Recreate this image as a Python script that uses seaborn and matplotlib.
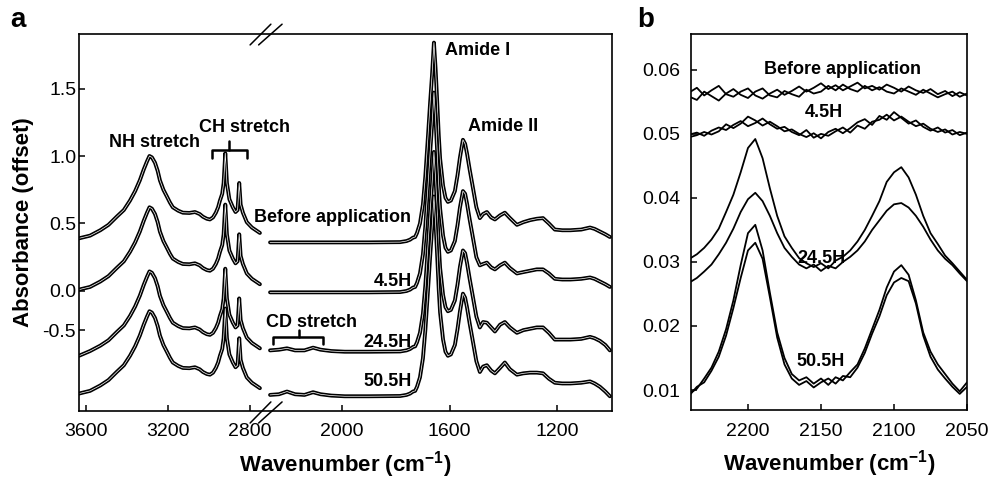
import numpy as np
import matplotlib
matplotlib.use("Agg")
import matplotlib.pyplot as plt
import seaborn as sns

# ---------------- Panel a data ----------------
# high-wavenumber segment (NH / CH stretch region)
wn_high = [3634, 3580, 3530, 3490, 3450, 3415, 3385, 3360, 3337, 3318, 3302, 3290, 3278, 3263,
           3250, 3239, 3222, 3205, 3190, 3176, 3150, 3127, 3095, 3068, 3045, 3029, 3010, 2995,
           2980, 2966, 2955, 2946, 2935, 2928, 2920, 2912, 2900, 2883, 2870, 2860, 2852, 2845,
           2834, 2815, 2790, 2751]
high_before = [0.39, 0.41, 0.45, 0.49, 0.55, 0.60, 0.67, 0.74, 0.82, 0.90, 0.96, 1.00, 0.99,
               0.95, 0.89, 0.82, 0.75, 0.70, 0.655, 0.62, 0.595, 0.58, 0.578, 0.585, 0.57,
               0.55, 0.535, 0.53, 0.545, 0.58, 0.62, 0.67, 0.72, 0.80, 1.02, 0.80, 0.68, 0.62,
               0.585, 0.60, 0.80, 0.64, 0.58, 0.51, 0.47, 0.43]
high_4h = [0.01, 0.03, 0.07, 0.11, 0.17, 0.22, 0.29, 0.36, 0.44, 0.52, 0.58, 0.62, 0.61, 0.57,
           0.51, 0.44, 0.37, 0.32, 0.275, 0.24, 0.215, 0.20, 0.198, 0.205, 0.19, 0.17, 0.155,
           0.15, 0.165, 0.20, 0.24, 0.29, 0.34, 0.42, 0.64, 0.42, 0.30, 0.24, 0.205, 0.22, 0.42,
           0.26, 0.20, 0.13, 0.09, 0.05]
high_24h = [-0.48, -0.445, -0.405, -0.365, -0.305, -0.255, -0.185, -0.115, -0.035, 0.045,
            0.105, 0.145, 0.135, 0.095, 0.035, -0.035, -0.105, -0.155, -0.20, -0.235, -0.26,
            -0.275, -0.277, -0.27, -0.285, -0.305, -0.32, -0.325, -0.31, -0.275, -0.235,
            -0.185, -0.135, -0.055, 0.165, -0.055, -0.175, -0.235, -0.27, -0.255, -0.055,
            -0.215, -0.275, -0.345, -0.385, -0.425]
high_50h = [-0.76, -0.74, -0.70, -0.66, -0.60, -0.55, -0.48, -0.41, -0.33, -0.25, -0.19, -0.15,
            -0.16, -0.20, -0.26, -0.33, -0.40, -0.45, -0.495, -0.53, -0.555, -0.57, -0.572,
            -0.565, -0.58, -0.60, -0.615, -0.62, -0.605, -0.57, -0.53, -0.48, -0.43, -0.35,
            -0.13, -0.35, -0.47, -0.53, -0.565, -0.55, -0.35, -0.51, -0.57, -0.64, -0.68, -0.72]

# low-wavenumber segment (CD stretch, amide and fingerprint region)
wn_low = [2268, 2235, 2205, 2175, 2140, 2108, 2080, 2040, 1990, 1900,
          1784, 1760, 1747, 1736, 1728, 1721, 1710, 1699, 1690, 1680,
          1672, 1665, 1658, 1652, 1647, 1640, 1635, 1624, 1615, 1606,
          1595, 1580, 1570, 1561, 1550, 1542, 1535, 1525, 1516, 1500,
          1487, 1475, 1461, 1445, 1431, 1412, 1394, 1375, 1349, 1325,
          1300, 1275, 1252, 1230, 1208, 1180, 1150, 1110, 1077, 1060,
          1040, 1020, 1003]
low_before = [0.36, 0.36, 0.36, 0.36, 0.36, 0.36, 0.36, 0.36, 0.36, 0.36,
              0.362, 0.37, 0.38, 0.395, 0.40, 0.43, 0.50, 0.64, 0.85, 1.15,
              1.40, 1.60, 1.84, 1.65, 1.45, 1.15, 0.98, 0.78, 0.69, 0.66,
              0.67, 0.74, 0.86, 0.99, 1.12, 1.09, 1.02, 0.90, 0.80, 0.62,
              0.54, 0.57, 0.585, 0.545, 0.53, 0.56, 0.58, 0.54, 0.49, 0.51,
              0.525, 0.535, 0.54, 0.50, 0.455, 0.45, 0.45, 0.455, 0.47, 0.46,
              0.44, 0.42, 0.40]
low_4h = [-0.01, -0.01, -0.01, -0.01, -0.01, -0.01, -0.01, -0.01, -0.01, -0.01,
          -0.008, 0.0, 0.01, 0.025, 0.03, 0.06, 0.13, 0.27, 0.48, 0.78,
          1.03, 1.23, 1.47, 1.28, 1.08, 0.78, 0.61, 0.41, 0.32, 0.29,
          0.30, 0.37, 0.49, 0.62, 0.74, 0.72, 0.65, 0.53, 0.43, 0.25,
          0.19, 0.20, 0.21, 0.175, 0.16, 0.19, 0.21, 0.17, 0.13, 0.14,
          0.15, 0.16, 0.16, 0.13, 0.09, 0.085, 0.085, 0.09, 0.10, 0.09,
          0.07, 0.05, 0.03]
low_24h = [-0.44, -0.435, -0.425, -0.44, -0.44, -0.42, -0.435, -0.445, -0.45, -0.45,
           -0.448, -0.44, -0.43, -0.415, -0.41, -0.38, -0.31, -0.17, 0.04, 0.34,
           0.59, 0.79, 1.03, 0.84, 0.64, 0.34, 0.17, -0.03, -0.12, -0.15,
           -0.14, -0.07, 0.05, 0.18, 0.30, 0.28, 0.21, 0.09, -0.01, -0.19,
           -0.27, -0.23, -0.235, -0.27, -0.30, -0.25, -0.23, -0.27, -0.31, -0.29,
           -0.28, -0.27, -0.27, -0.31, -0.36, -0.36, -0.36, -0.355, -0.34, -0.35,
           -0.37, -0.40, -0.44]
low_50h = [-0.77, -0.765, -0.745, -0.765, -0.77, -0.75, -0.765, -0.775, -0.78, -0.78,
           -0.778, -0.77, -0.76, -0.745, -0.74, -0.71, -0.64, -0.50, -0.29, 0.01,
           0.26, 0.46, 0.70, 0.51, 0.31, 0.01, -0.16, -0.36, -0.45, -0.48,
           -0.47, -0.40, -0.28, -0.15, -0.02, -0.05, -0.12, -0.24, -0.34, -0.52,
           -0.60, -0.56, -0.55, -0.59, -0.61, -0.57, -0.53, -0.58, -0.62, -0.61,
           -0.605, -0.605, -0.61, -0.65, -0.68, -0.685, -0.685, -0.68, -0.67, -0.685,
           -0.71, -0.745, -0.78]

a_xticks = [3600, 3200, 2800, 2000, 1600, 1200]
a_ytick_pos = [-0.29, 0.0, 0.5, 1.0, 1.5]
a_ytick_labels = ["-0.5", "0.0", "0.5", "1.0", "1.5"]

# ---------------- Panel b data (CD stretch region) ----------------
wn_cd = [2240, 2235, 2230, 2225, 2220, 2215, 2210, 2205, 2200, 2195, 2190, 2185, 2180, 2175,
         2170, 2165, 2160, 2155, 2150, 2145, 2140, 2135, 2130, 2125, 2120, 2115, 2110, 2105,
         2100, 2095, 2090, 2085, 2080, 2075, 2070, 2065, 2060, 2055, 2050]
cd_before_1 = [0.0565, 0.0572, 0.0560, 0.0568, 0.0575, 0.0562, 0.0558, 0.0566, 0.0571, 0.0560,
               0.0555, 0.0563, 0.0569, 0.0561, 0.0567, 0.0574, 0.0566, 0.0572, 0.0579, 0.0570,
               0.0576, 0.0568, 0.0574, 0.0580, 0.0571, 0.0575, 0.0569, 0.0577, 0.0572, 0.0566,
               0.0574, 0.0568, 0.0564, 0.0570, 0.0562, 0.0567, 0.0559, 0.0565, 0.0560]
cd_before_2 = [0.0558, 0.0553, 0.0566, 0.0559, 0.0552, 0.0563, 0.0570, 0.0561, 0.0556, 0.0566,
               0.0571, 0.0560, 0.0557, 0.0567, 0.0562, 0.0558, 0.0569, 0.0563, 0.0566, 0.0575,
               0.0568, 0.0577, 0.0570, 0.0566, 0.0575, 0.0568, 0.0573, 0.0566, 0.0563, 0.0571,
               0.0566, 0.0561, 0.0569, 0.0563, 0.0557, 0.0562, 0.0566, 0.0558, 0.0563]
cd_4h_1 = [0.0499, 0.0502, 0.0497, 0.0505, 0.0510, 0.0506, 0.0514, 0.0520, 0.0512, 0.0517,
           0.0524, 0.0515, 0.0508, 0.0511, 0.0503, 0.0498, 0.0506, 0.0494, 0.0500, 0.0497,
           0.0504, 0.0510, 0.0502, 0.0513, 0.0508, 0.0519, 0.0522, 0.0530, 0.0521, 0.0527,
           0.0519, 0.0512, 0.0516, 0.0508, 0.0503, 0.0507, 0.0499, 0.0503, 0.0500]
cd_4h_2 = [0.0495, 0.0498, 0.0503, 0.0499, 0.0504, 0.0515, 0.0509, 0.0516, 0.0527, 0.0521,
           0.0513, 0.0519, 0.0512, 0.0504, 0.0507, 0.0500, 0.0495, 0.0501, 0.0493, 0.0503,
           0.0508, 0.0501, 0.0509, 0.0518, 0.0523, 0.0514, 0.0528, 0.0522, 0.0534, 0.0525,
           0.0516, 0.0521, 0.0511, 0.0505, 0.0510, 0.0502, 0.0506, 0.0498, 0.0502]
cd_24h_1 = [0.0305, 0.0312, 0.0322, 0.0335, 0.0352, 0.0378, 0.0405, 0.0440, 0.0478, 0.0492,
            0.0462, 0.0415, 0.0372, 0.0340, 0.0322, 0.0306, 0.0298, 0.0292, 0.0298, 0.0290,
            0.0302, 0.0308, 0.0318, 0.0332, 0.0350, 0.0372, 0.0395, 0.0425, 0.0440, 0.0448,
            0.0432, 0.0405, 0.0372, 0.0345, 0.0328, 0.0310, 0.0298, 0.0285, 0.0272]
cd_24h_2 = [0.0268, 0.0275, 0.0285, 0.0296, 0.0312, 0.0330, 0.0352, 0.0378, 0.0398, 0.0408,
            0.0395, 0.0372, 0.0345, 0.0322, 0.0308, 0.0296, 0.0290, 0.0296, 0.0286, 0.0294,
            0.0290, 0.0300, 0.0308, 0.0318, 0.0332, 0.0350, 0.0365, 0.0380, 0.0390, 0.0392,
            0.0385, 0.0372, 0.0355, 0.0335, 0.0318, 0.0305, 0.0295, 0.0282, 0.0270]
cd_50h_1 = [0.0095, 0.0102, 0.0118, 0.0135, 0.0160, 0.0195, 0.0240, 0.0295, 0.0345, 0.0358,
            0.0318, 0.0252, 0.0190, 0.0150, 0.0125, 0.0115, 0.0120, 0.0110, 0.0118, 0.0108,
            0.0120, 0.0115, 0.0128, 0.0140, 0.0165, 0.0195, 0.0225, 0.0260, 0.0285, 0.0295,
            0.0280, 0.0240, 0.0190, 0.0160, 0.0140, 0.0125, 0.0110, 0.0098, 0.0112]
cd_50h_2 = [0.0092, 0.0105, 0.0112, 0.0130, 0.0152, 0.0185, 0.0228, 0.0275, 0.0318, 0.0330,
            0.0305, 0.0245, 0.0182, 0.0140, 0.0118, 0.0108, 0.0114, 0.0104, 0.0112, 0.0118,
            0.0110, 0.0122, 0.0120, 0.0135, 0.0158, 0.0188, 0.0215, 0.0248, 0.0268, 0.0275,
            0.0270, 0.0235, 0.0185, 0.0152, 0.0132, 0.0118, 0.0105, 0.0094, 0.0105]
b_xticks = [2200, 2150, 2100, 2050]
b_yticks = [0.01, 0.02, 0.03, 0.04, 0.05, 0.06]

# ---------------- style ----------------
sns.set_style("ticks")
plt.rcParams["font.family"] = ["Liberation Sans", "DejaVu Sans"]
plt.rcParams["mathtext.fontset"] = "custom"
plt.rcParams["mathtext.rm"] = "Liberation Sans:bold"
plt.rcParams["mathtext.bf"] = "Liberation Sans:bold"
plt.rcParams["mathtext.default"] = "bf"
for key in ["text.color", "axes.labelcolor", "xtick.color", "ytick.color", "axes.edgecolor"]:
    plt.rcParams[key] = "black"

fig = plt.figure(figsize=(9.91, 4.80), dpi=100)
ax_a = fig.add_axes([0.0797, 0.1438, 0.5379, 0.7854])
ax_b = fig.add_axes([0.6973, 0.1458, 0.2785, 0.7834])

# broken x-axis for panel a: compress the 2270-2750 gap and the high region
GAP_LO, GAP_HI = 2270.0, 2750.0
K_GAP, K_HIGH = 0.073, 0.7627
U_BREAK = GAP_LO + (GAP_HI - GAP_LO) * K_GAP


def fwd(w):
    w = np.asarray(w, dtype=float)
    return np.where(w <= GAP_LO, w,
                    np.where(w <= GAP_HI, GAP_LO + (w - GAP_LO) * K_GAP,
                             U_BREAK + (w - GAP_HI) * K_HIGH))


def inv(u):
    u = np.asarray(u, dtype=float)
    return np.where(u <= GAP_LO, u,
                    np.where(u <= U_BREAK, GAP_LO + (u - GAP_LO) / K_GAP,
                             GAP_HI + (u - U_BREAK) / K_HIGH))


ax_a.set_xscale("function", functions=(fwd, inv))


def spectrum(ax, x, y, thick=2.8, seam=0.5):
    sns.lineplot(x=x, y=y, ax=ax, color="black", lw=thick, sort=False, estimator=None)
    sns.lineplot(x=x, y=y, ax=ax, color="white", lw=seam, sort=False, estimator=None)


for hi, lo in [(high_before, low_before), (high_4h, low_4h),
               (high_24h, low_24h), (high_50h, low_50h)]:
    spectrum(ax_a, wn_high, hi)
    spectrum(ax_a, wn_low, lo)

ax_a.set_xlim(3634, 995)
ax_a.set_ylim(-0.889, 1.904)
ax_a.set_xticks(a_xticks)
ax_a.set_xticklabels([str(t) for t in a_xticks])
ax_a.set_yticks(a_ytick_pos)
ax_a.set_yticklabels(a_ytick_labels)
ax_a.minorticks_off()

bold = dict(fontweight="bold", color="black")
ax_a.text(3263, 1.10, "NH stretch", ha="center", va="center", fontsize=13, **bold)
ax_a.text(2824, 1.21, "CH stretch", ha="center", va="center", fontsize=13, **bold)
ax_a.plot([2985, 2985, 2815, 2815], [0.985, 1.044, 1.044, 0.985], color="black", lw=1.8)
ax_a.plot([2902, 2902], [1.044, 1.11], color="black", lw=1.8)
ax_a.text(2037, 0.548, "Before application", ha="center", va="center", fontsize=13, **bold)
ax_a.text(1740, 0.067, "4.5H", ha="right", va="center", fontsize=13, **bold)
ax_a.text(2112, -0.23, "CD stretch", ha="center", va="center", fontsize=13, **bold)
ax_a.plot([2257, 2257, 2071, 2071], [-0.39, -0.34, -0.34, -0.39], color="black", lw=1.8)
ax_a.plot([2160, 2160], [-0.34, -0.29], color="black", lw=1.8)
ax_a.text(1740, -0.378, "24.5H", ha="right", va="center", fontsize=13, **bold)
ax_a.text(1740, -0.674, "50.5H", ha="right", va="center", fontsize=13, **bold)
ax_a.text(1617, 1.785, "Amide I", ha="left", va="center", fontsize=13, **bold)
ax_a.text(1531, 1.215, "Amide II", ha="left", va="center", fontsize=13, **bold)

# axis-break marks
for x0, x1 in [(0.321, 0.360), (0.337, 0.381)]:
    ax_a.plot([x0, x1], [0.971, 1.026], transform=ax_a.transAxes, color="black",
              lw=1.1, clip_on=False)
    ax_a.plot([x0, x1], [-0.032, 0.024], transform=ax_a.transAxes, color="black",
              lw=1.1, clip_on=False)

# ---------------- panel b ----------------
for y in [cd_before_1, cd_before_2, cd_4h_1, cd_4h_2, cd_24h_1, cd_24h_2, cd_50h_1, cd_50h_2]:
    sns.lineplot(x=wn_cd, y=y, ax=ax_b, color="black", lw=1.3, sort=False, estimator=None)

ax_b.set_xlim(2239, 2050)
ax_b.set_ylim(0.00688, 0.0656)
ax_b.set_xticks(b_xticks)
ax_b.set_yticks(b_yticks)
ax_b.set_yticklabels([f"{t:.2f}" for t in b_yticks])
ax_b.text(2135, 0.0600, "Before application", ha="center", va="center", fontsize=13, **bold)
ax_b.text(2148, 0.0533, "4.5H", ha="center", va="center", fontsize=13, **bold)
ax_b.text(2150, 0.0305, "24.5H", ha="center", va="center", fontsize=13, **bold)
ax_b.text(2150, 0.0145, "50.5H", ha="center", va="center", fontsize=13, **bold)

for ax in (ax_a, ax_b):
    for s in ax.spines.values():
        s.set_visible(True)
        s.set_linewidth(1.2)
        s.set_color("black")
    ax.tick_params(direction="in", length=4, width=1.1, labelsize=14, colors="black")
    ax.set_xlabel("Wavenumber (cm$^{-1}$)", fontsize=16, fontweight="bold", labelpad=6)
ax_a.tick_params(axis="y", pad=2)
ax_a.tick_params(axis="x", pad=9)
ax_b.tick_params(axis="y", pad=8)
ax_b.tick_params(axis="x", pad=9)
ax_a.set_ylabel("Absorbance (offset)", fontsize=16, fontweight="bold", labelpad=6)
ax_b.set_ylabel("")

fig.text(0.010, 0.985, "a", fontsize=20, fontweight="bold", va="top", ha="left")
fig.text(0.643, 0.985, "b", fontsize=20, fontweight="bold", va="top", ha="left")

fig.savefig("out.png", dpi=100)
